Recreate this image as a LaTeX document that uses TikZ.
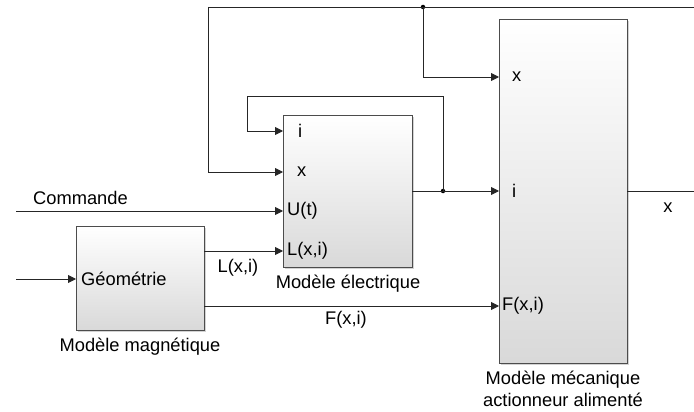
\documentclass[tikz,border=0pt]{standalone}
\usepackage{fontspec}
\setmainfont{Liberation Sans}
\usetikzlibrary{arrows.meta,shadows}
\begin{document}
\begin{tikzpicture}[x=1pt,y=-1pt,
  blk/.style={draw=black!70, line width=1.3pt, top color=white, bottom color=black!15,
    drop shadow={shadow xshift=1.5pt, shadow yshift=-1.5pt, opacity=0.35},
    inner sep=0pt, anchor=north west},
  wire/.style={draw=black!85, line width=0.9pt},
  sig/.style={wire, -{Triangle[length=8pt,width=8pt]}},
  lbl/.style={font=\fontsize{18.3}{21}\selectfont, inner sep=0pt},
  dot/.style={circle, fill=black, inner sep=0pt, minimum size=4.5pt}]
\useasboundingbox (0,0) rectangle (694,412);
% blocks
\node[blk, minimum width=128pt, minimum height=104pt] (mag) at (76,226) {};
\node[blk, minimum width=129pt, minimum height=152pt] (elec) at (283,115) {};
\node[blk, minimum width=128pt, minimum height=344pt] (mech) at (499,19) {};
% ports
\coordinate (ei) at (283,131);
\coordinate (ex) at (283,172);
\coordinate (eu) at (283,211);
\coordinate (el) at (283,251);
\coordinate (eo) at (412,191);
\coordinate (mx) at (499,77);
\coordinate (mi) at (499,191);
\coordinate (mf) at (499,306);
\coordinate (mo) at (627,191);
\coordinate (gi) at (76,279);
\coordinate (gl) at (204,251);
\coordinate (gf) at (204,306);
% free ends and bends
\coordinate (cmdin) at (16,211);
\coordinate (geoin) at (16,279);
\coordinate (xout) at (694,191);
\coordinate (topend) at (694,7);
\coordinate (topl) at (208,7);
\node[dot] (dx) at (423,7) {};
\node[dot] (di) at (443,191) {};
% port labels
\node[lbl, anchor=west] at (298,131) {i};
\node[lbl, anchor=west] at (297,172) {x};
\node[lbl, anchor=west] at (287,211) {U(t)};
\node[lbl, anchor=west] at (287,251) {L(x,i)};
\node[lbl, anchor=west] at (512,77) {x};
\node[lbl, anchor=west] at (512,191) {i};
\node[lbl, anchor=west] at (502,306) {F(x,i)};
\node[lbl, anchor=west] at (81,279) {Géométrie};
% other labels
\node[lbl, anchor=west] at (33,198) {Commande};
\node[lbl] at (668,208) {x};
\node[lbl] at (238,268) {L(x,i)};
\node[lbl] at (346,320) {F(x,i)};
\node[lbl] at (348,284) {Modèle électrique};
\node[lbl] at (140,347) {Modèle magnétique};
\node[lbl] at (563,380) {Modèle mécanique};
\node[lbl] at (563,400) {actionneur alimenté};
% connectors
\draw[sig] (cmdin) -- (eu);
\draw[sig] (geoin) -- (gi);
\draw[sig] (gl) -- (el);
\draw[sig] (gf) -- (mf);
\draw[sig] (eo) -- (mi);
\draw[wire] (mo) -- (xout);
\draw[wire] (topend) -- (topl);
\draw[sig] (topl) |- (ex);
\draw[sig] (dx.center) |- (mx);
\draw[sig] (di.center) -- (443,96) -| (247,131) -- (ei);
\end{tikzpicture}
\end{document}
